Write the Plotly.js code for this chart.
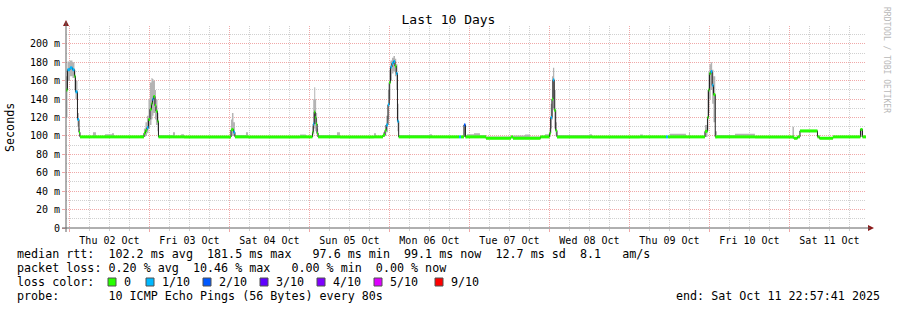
<!DOCTYPE html>
<html>
<head>
<meta charset="utf-8">
<script src="https://cdn.plot.ly/plotly-3.0.1.min.js"></script>
<style>
html,body{margin:0;padding:0;background:#ffffff;}
#chart{width:897px;height:310px;}
</style>
</head>
<body>
<div id="chart"></div>
<script>
// ---- data ----
const rangeStart = '2025-10-01 22:57:41';
const rangeEnd = '2025-10-11 22:57:41';

const times = [
 '2025-10-01 22:57:41','2025-10-01 23:24','2025-10-02 00:09','2025-10-02 00:54','2025-10-02 01:30',
 '2025-10-02 01:48','2025-10-02 02:24','2025-10-02 02:51','2025-10-02 03:09','2025-10-02 07:03',
 '2025-10-02 07:57','2025-10-02 10:39','2025-10-02 12:45','2025-10-02 13:21','2025-10-02 21:09',
 '2025-10-02 22:21','2025-10-02 22:48','2025-10-02 23:15','2025-10-02 23:42','2025-10-03 00:09',
 '2025-10-03 00:36','2025-10-03 00:54','2025-10-03 01:12','2025-10-03 01:39','2025-10-03 01:57',
 '2025-10-03 02:24','2025-10-03 02:42','2025-10-03 07:03','2025-10-03 07:39','2025-10-03 09:30',
 '2025-10-03 10:21','2025-10-04 00:27','2025-10-04 00:45','2025-10-04 01:12','2025-10-04 01:39',
 '2025-10-04 04:57','2025-10-04 05:33','2025-10-04 21:09','2025-10-04 22:57','2025-10-05 00:54',
 '2025-10-05 01:08','2025-10-05 01:26','2025-10-05 01:44','2025-10-05 02:00','2025-10-05 02:18',
 '2025-10-05 02:36','2025-10-05 08:15','2025-10-05 09:09','2025-10-05 19:21','2025-10-05 19:57',
 '2025-10-05 22:03','2025-10-05 22:39','2025-10-05 23:02','2025-10-05 23:33','2025-10-05 23:56',
 '2025-10-06 00:18','2025-10-06 00:45','2025-10-06 01:12','2025-10-06 01:39','2025-10-06 02:02',
 '2025-10-06 02:24','2025-10-06 02:46','2025-10-06 12:09','2025-10-06 12:45','2025-10-06 20:51',
 '2025-10-06 21:27','2025-10-06 22:21','2025-10-06 22:48','2025-10-06 23:15','2025-10-07 01:21',
 '2025-10-07 03:09','2025-10-07 04:57','2025-10-07 12:27','2025-10-07 13:03','2025-10-07 16:39',
 '2025-10-07 18:09','2025-10-07 21:18','2025-10-07 22:39','2025-10-08 00:00','2025-10-08 00:22',
 '2025-10-08 00:45','2025-10-08 01:03','2025-10-08 01:26','2025-10-08 01:52','2025-10-08 02:15',
 '2025-10-08 12:09','2025-10-08 12:45','2025-10-09 03:09','2025-10-09 04:03','2025-10-09 10:57',
 '2025-10-09 11:33','2025-10-09 12:09','2025-10-09 16:57','2025-10-09 17:51','2025-10-09 18:09',
 '2025-10-09 22:39','2025-10-09 23:24','2025-10-09 23:42','2025-10-10 00:00','2025-10-10 00:23',
 '2025-10-10 00:49','2025-10-10 01:12','2025-10-10 01:44','2025-10-10 02:15','2025-10-10 07:39',
 '2025-10-10 13:39','2025-10-11 00:54','2025-10-11 01:21','2025-10-11 02:24','2025-10-11 03:09',
 '2025-10-11 08:24','2025-10-11 09:00','2025-10-11 13:03','2025-10-11 21:18','2025-10-11 21:54',
 '2025-10-11 22:57:41'
];
// median rtt, ms
const median = [
 150,172,174,172,165, 148,118,104,99,99, 99,99,99,99,99,
 103,106,109,118,129, 135,140,143,133,127, 116,99,99,99,99,
 99,106.5,107,104,99, 99,99,99,99,104, 113,126,120,113,103,
 99,99,99,99,99, 101,106,112,134,158, 175,179,181,176,168,
 116,99,99,99,99, 99,112,99,99,99, 99,97.5,99,97.5,97.5,
 97.5,99,99,103,120, 140,161,128,106,99, 99,99,99,99,99,
 99,99,99,99,99, 105,120,150,168,170, 155,145,99,99,99,
 99,99,97.5,99,105.5, 99,97.5,99,107,99, 99
];
// top of the smoke, ms
const smokeHi = [
 165,181,182,180,172, 160,125,108,100,104, 100,102,103,100,101,
 108,115,122,140,158, 163,162,160,150,140, 125,101,104,100,102,
 100,118,125,115,101, 104,100,101.5,100,110, 140,153,140,125,108,
 101,104,100,103,100, 104,112,122,150,172, 182,185,187,184,178,
 135,101,102,100,100, 100,113,101,102,103, 101,99.5,100,100.5,101.5,
 99.5,100,102,108,135, 165,174,150,115,101, 102,100,101.5,100,100,
 100,102.5,100,104,100, 112,150,170,178,180, 172,165,105,101,102.5,
 100,110,99,100,106.5, 101,99,100,108,100, 100
];
// bottom of the smoke, ms
const smokeLo = [
 120,160,165,163,150, 140,110,100,98.5,98.5, 98.5,98.5,98.5,98.5,98.5,
 99,100,103,108,112, 118,122,125,118,112, 105,98.5,98.5,98.5,98.5,
 98.5,99,100,100,98.5, 98.5,98.5,98.5,98.5,99, 102,108,105,102,99,
 98.5,98.5,98.5,98.5,98.5, 99,100,104,118,140, 160,168,170,165,150,
 105,98.5,98.5,98.5,98.5, 98.5,99,98.5,98.5,98.5, 98.5,97,98.5,97,97,
 97,98.5,98.5,99,108, 118,130,108,100,98.5, 98.5,98.5,98.5,98.5,98.5,
 98.5,98.5,98.5,98.5,98.5, 99,105,125,140,150, 135,115,98.5,98.5,98.5,
 98.5,97,97,98.5,104, 98.5,97,98.5,99,98.5, 98.5
];
// lost pings out of 10
const lossCount = [
 0,1,1,1,0, 1,1,0,0,0, 0,0,0,0,0,
 0,0,1,0,0, 0,1,0,0,0, 0,0,0,0,0,
 0,0,0,1,0, 0,0,0,0,0, 1,0,0,0,0,
 0,0,0,0,0, 0,0,1,1,0, 1,1,1,0,1,
 1,0,0,0,1, 0,2,0,0,0, 0,0,0,0,0,
 0,0,0,0,1, 0,1,0,0,0, 0,0,0,0,1,
 0,0,0,0,0, 0,0,0,0,1, 1,0,0,0,0,
 0,0,0,0,0, 0,0,0,0,0, 0
];

const lossLabels = ['0','1/10','2/10','3/10','4/10','5/10','9/10'];
const lossColors = ['#26ff00','#00b8ff','#0059ff','#5e00ff','#7e00ff','#dd00ff','#ff0000'];

const yTickVals = [0,20,40,60,80,100,120,140,160,180,200];
const yTickText = ['0','20 m','40 m','60 m','80 m','100 m','120 m','140 m','160 m','180 m','200 m'];

const chartTitle = 'Last 10 Days';
const yTitle = 'Seconds';
const statLines = [
 'median rtt:  102.2 ms avg  181.5 ms max   97.6 ms min  99.1 ms now  12.7 ms sd  8.1   am/s',
 'packet loss: 0.20 % avg  10.46 % max   0.00 % min  0.00 % now',
 'loss color:',
 'probe:       10 ICMP Echo Pings (56 Bytes) every 80s'
];
const endText = 'end: Sat Oct 11 22:57:41 2025';
const watermark = 'RRDTOOL / TOBI OETIKER';

// ---- geometry helpers (layout only) ----
const W = 897, H = 310;
const L = 66, R = 31, T = 26, B = 82;
const PW = W - L - R, PH = H - T - B;
const px = x => (x - L) / PW;
const py = y => (H - B - y) / PH;
const nb = s => s.replace(/ /g, '\u00a0');
const MONO = 'DejaVu Sans Mono';
const LEG = 11.7;

// ---- traces ----
const traces = [];
traces.push({x: times, y: smokeLo, type: 'scatter', mode: 'lines', line: {shape: 'hv', width: 0, color: 'rgba(0,0,0,0)'}, hoverinfo: 'skip'});
traces.push({x: times, y: smokeHi, type: 'scatter', mode: 'lines', fill: 'tonexty', fillcolor: '#b4b4b4', line: {shape: 'hv', width: 0, color: 'rgba(0,0,0,0)'}, hoverinfo: 'skip'});
traces.push({x: times, y: median, type: 'scatter', mode: 'lines', line: {shape: 'hv', width: 1, color: '#202020'}, hoverinfo: 'skip'});

const levelOf = c => (c <= 5 ? c : 6);
for (let k = 0; k < lossColors.length; k++) {
  const sx = [], sy = [];
  for (let i = 0; i < times.length - 1; i++) {
    if (levelOf(lossCount[i]) !== k) continue;
    sx.push(times[i], times[i + 1], null);
    sy.push(median[i], median[i], null);
  }
  if (sx.length) traces.push({x: sx, y: sy, type: 'scatter', mode: 'lines', connectgaps: false,
    line: {width: 3, color: lossColors[k]}, hoverinfo: 'skip'});
}

// ---- annotations & shapes ----
const ann = [];
ann.push({xref: 'paper', yref: 'paper', x: px(10), y: py(127), text: yTitle, textangle: -90, showarrow: false,
  xanchor: 'center', yanchor: 'middle', font: {family: MONO, size: LEG, color: '#000'}});
const lineY = [254, 268, 282, 296];
statLines.forEach((s, i) => ann.push({xref: 'paper', yref: 'paper', x: px(15), y: py(lineY[i]), text: nb(s),
  showarrow: false, xanchor: 'left', yanchor: 'middle', font: {family: MONO, size: LEG, color: '#000'}}));
ann.push({xref: 'paper', yref: 'paper', x: px(882), y: py(296), text: nb(endText), showarrow: false,
  xanchor: 'right', yanchor: 'middle', font: {family: MONO, size: LEG, color: '#000'}});
ann.push({xref: 'paper', yref: 'paper', x: px(887), y: py(60), text: nb(watermark), textangle: 90, showarrow: false,
  xanchor: 'center', yanchor: 'middle', font: {family: MONO, size: 8, color: '#b8b8b8'}});

const boxX = [108, 146, 203, 260, 317, 374, 435];
const labX = [122, 160, 217, 274, 331, 388, 449];
const shapes = [];
lossColors.forEach((c, i) => {
  shapes.push({type: 'rect', xref: 'paper', yref: 'paper', x0: px(boxX[i]), x1: px(boxX[i] + 8),
    y0: py(286), y1: py(278), fillcolor: c, line: {color: '#505050', width: 1}});
  ann.push({xref: 'paper', yref: 'paper', x: px(labX[i]), y: py(282), text: nb(lossLabels[i]), showarrow: false,
    xanchor: 'left', yanchor: 'middle', font: {family: MONO, size: LEG, color: '#000'}});
});
// axis arrows
const P = (x, y) => px(x) + ',' + py(y);
shapes.push({type: 'path', xref: 'paper', yref: 'paper', path: 'M' + P(66, 20) + ' L' + P(63, 26) + ' L' + P(69, 26) + ' Z',
  fillcolor: '#8b1a1a', line: {width: 0}});
shapes.push({type: 'path', xref: 'paper', yref: 'paper', path: 'M' + P(874, 228) + ' L' + P(868, 225) + ' L' + P(868, 231) + ' Z',
  fillcolor: '#8b1a1a', line: {width: 0}});
shapes.push({type: 'line', xref: 'paper', yref: 'paper', x0: px(62), x1: px(870), y0: 0, y1: 0, line: {color: '#606060', width: 1}});
shapes.push({type: 'line', xref: 'paper', yref: 'paper', x0: 0, x1: 0, y0: py(232), y1: py(22), line: {color: '#606060', width: 1}});

const layout = {
  width: W, height: H,
  margin: {l: L, r: R, t: T, b: B, pad: 0},
  paper_bgcolor: '#ffffff', plot_bgcolor: '#ffffff',
  font: {family: MONO, size: 10, color: '#000'},
  showlegend: false,
  title: {text: chartTitle, x: 0.5, xref: 'container', xanchor: 'center', y: 1 - 19 / H, yref: 'container', yanchor: 'middle',
    font: {family: MONO, size: 13, color: '#000'}},
  xaxis: {
    type: 'date', range: [rangeStart, rangeEnd], tick0: '2025-10-02', dtick: 86400000,
    tickformat: '%a %d %b', ticklabelmode: 'period',
    showgrid: true, gridcolor: '#f0a8a8', griddash: '1px,1px', gridwidth: 1,
    ticks: 'outside', ticklen: 3, tickcolor: '#f0a8a8',
    showline: false, zeroline: false, tickfont: {family: MONO, size: 10, color: '#000'},
    minor: {tick0: '2025-10-02', dtick: 21600000, showgrid: true, gridcolor: '#d0d0d0', griddash: '1px,1px', gridwidth: 1,
      ticks: 'outside', ticklen: 2, tickcolor: '#d0d0d0'},
    fixedrange: true
  },
  yaxis: {
    range: [0, 219.5], tickmode: 'array', tickvals: yTickVals, ticktext: yTickText,
    showgrid: true, gridcolor: '#f0a8a8', griddash: '1px,1px', gridwidth: 1,
    ticks: 'outside', ticklen: 3, tickcolor: '#f0a8a8',
    showline: false, zeroline: false, tickfont: {family: MONO, size: 10, color: '#000'},
    minor: {tickmode: 'linear', tick0: 0, dtick: 10, showgrid: true, gridcolor: '#d0d0d0', griddash: '1px,1px', gridwidth: 1},
    fixedrange: true
  },
  annotations: ann,
  shapes: shapes
};

Plotly.newPlot('chart', traces, layout, {staticPlot: true, displayModeBar: false});
</script>
</body>
</html>
